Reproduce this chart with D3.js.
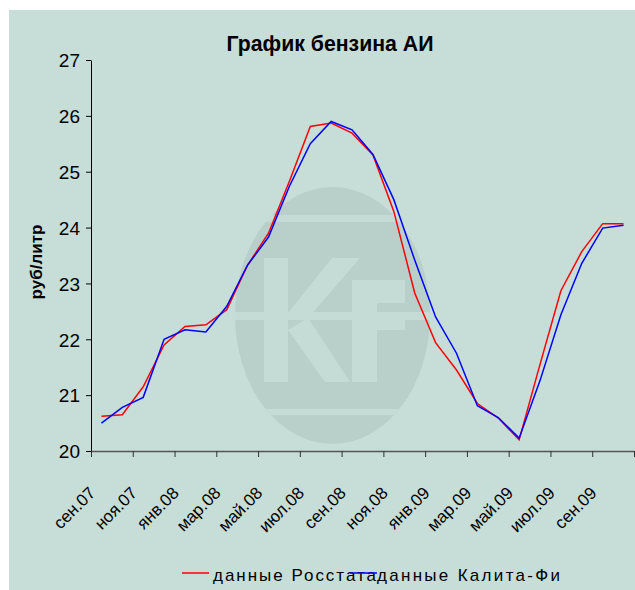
<!DOCTYPE html>
<meta charset="utf-8">
<style>
body { margin: 0; background: #fff; }
svg { display: block; }
.tick text, .lbl { font-family: "Liberation Sans", Arial, sans-serif; fill: #000; }
</style>
<div id="chart"></div>
<script src="https://d3js.org/d3.v7.min.js"></script>
<script>
// months on the category axis (monthly, labels every 2nd)
var months = ["сен.07","окт.07","ноя.07","дек.07","янв.08","фев.08","мар.08","апр.08","май.08","июн.08",
  "июл.08","авг.08","сен.08","окт.08","ноя.08","дек.08","янв.09","фев.09","мар.09","апр.09",
  "май.09","июн.09","июл.09","авг.09","сен.09","окт.09"];
var rosstat = [20.62,20.65,21.15,21.90,22.23,22.26,22.53,23.33,23.90,24.83,25.81,25.87,25.69,25.30,
  24.29,22.83,21.94,21.45,20.85,20.59,20.20,21.55,22.87,23.57,24.07,24.07];
var kalita = [20.50,20.78,20.96,22.00,22.17,22.13,22.59,23.33,23.83,24.74,25.50,25.90,25.75,25.31,
  24.50,23.42,22.40,21.75,20.81,20.60,20.23,21.26,22.44,23.36,23.99,24.04];
var yTicks = [20,21,22,23,24,25,26,27];
var seriesNames = ["данные Росстата", "данные Калита-Фи"];

var W = 635, H = 590;
var bg = "#c7ddd7";

var svg = d3.select("#chart").append("svg").attr("width", W).attr("height", H);
svg.append("rect").attr("x", 9).attr("y", 10).attr("width", W - 9).attr("height", H - 10).attr("fill", bg);

var x = d3.scaleBand().domain(months).range([91, 634]).padding(0);
var xi = d3.scaleLinear().domain([0, months.length]).range([91, 634]);
var y = d3.scaleLinear().domain([20, 27]).range([451, 60]);

// watermark logo
var wm = svg.append("g");
wm.append("clipPath").attr("id", "ell").append("ellipse")
  .attr("cx", 332.5).attr("cy", 315.5).attr("rx", 97.5).attr("ry", 128.5);
wm.append("ellipse").attr("cx", 332.5).attr("cy", 315.5).attr("rx", 97.5).attr("ry", 128.5).attr("fill", "#b9d0ca");
var cut = wm.append("g").attr("clip-path", "url(#ell)").attr("fill", "#c5dbd5");
[[215, 7], [312, 8], [409, 6]].forEach(function(s) {
  cut.append("rect").attr("x", 230).attr("y", s[0]).attr("width", 205).attr("height", s[1]);
});
var logo = [
  [[264,258],[288,258],[288,382],[264,382]],
  [[288,313],[332,258],[360,258],[308,318]],
  [[308,318],[350,382],[325,382],[288,330]],
  [[352,280],[377,280],[377,382],[352,382]],
  [[377,280],[405,280],[405,303],[377,303]],
  [[377,320],[405,320],[405,330],[377,330]]
];
cut.selectAll("polygon").data(logo).enter().append("polygon")
  .attr("points", function(d) { return d.join(" "); });

// title
svg.append("text").attr("class", "lbl").attr("x", 330).attr("y", 51)
  .attr("text-anchor", "middle").attr("font-weight", "bold").attr("font-size", 22)
  .attr("textLength", 207).attr("lengthAdjust", "spacingAndGlyphs")
  .text("График бензина АИ");

// y axis
var gy = svg.append("g").attr("transform", "translate(91,0)")
  .call(d3.axisLeft(y).tickValues(yTicks).tickFormat(d3.format("d")).tickSize(5).tickSizeOuter(0).tickPadding(6));
gy.select(".domain").attr("stroke", "#000");
gy.selectAll(".tick line").attr("stroke", "#000");
gy.selectAll(".tick text").attr("font-size", 19).attr("dy", "0.36em");

svg.append("text").attr("class", "lbl")
  .attr("transform", "translate(42,262) rotate(-90)")
  .attr("text-anchor", "middle").attr("font-weight", "bold").attr("font-size", 17)
  .text("руб/литр");

// x axis
var gx = svg.append("g").attr("transform", "translate(0,451)")
  .call(d3.axisBottom(xi).tickValues(d3.range(0, months.length + 1, 2)).tickFormat("").tickSize(6).tickSizeOuter(0));
gx.select(".domain").attr("stroke", "#555").attr("stroke-width", 1.5);
gx.selectAll(".tick line").attr("stroke", "#333");

svg.append("g").selectAll("text").data(months.filter(function(d, i) { return i % 2 === 0; }))
  .enter().append("text").attr("class", "lbl")
  .attr("font-size", 17)
  .attr("text-anchor", "end")
  .attr("transform", function(d) { return "translate(" + (x(d) + x.bandwidth() / 2 - 5) + ",494) rotate(-45)"; })
  .text(function(d) { return d; });

// lines
var line = d3.line().x(function(d, i) { return x(months[i]) + x.bandwidth() / 2; }).y(function(d) { return y(d); });
svg.append("path").datum(rosstat).attr("d", line).attr("fill", "none").attr("stroke", "#ff0000").attr("stroke-width", 1.5);
svg.append("path").datum(kalita).attr("d", line).attr("fill", "none").attr("stroke", "#0000ff").attr("stroke-width", 1.5);

// legend
var leg = [[182, "#ff0000", 213, 163], [350, "#0000ff", 377, 183]];
leg.forEach(function(l, i) {
  svg.append("text").attr("class", "lbl").attr("x", l[2]).attr("y", 581)
    .attr("font-size", 17).attr("textLength", l[3]).attr("lengthAdjust", "spacing").text(seriesNames[i]);
  svg.append("line").attr("x1", l[0]).attr("x2", l[0] + 27).attr("y1", 573).attr("y2", 573)
    .attr("stroke", l[1]).attr("stroke-width", 1.5);
});
</script>
